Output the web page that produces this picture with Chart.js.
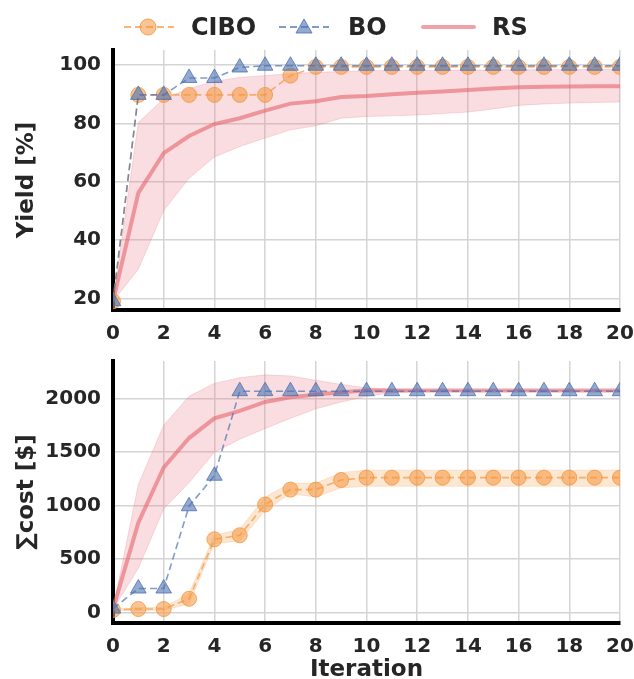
<!DOCTYPE html>
<html>
<head>
<meta charset="utf-8">
<script src="https://cdn.jsdelivr.net/npm/chart.js@4.4.1/dist/chart.umd.min.js"></script>
<style>
  body { margin: 0; background: #fff; width: 634px; height: 679px; overflow: hidden; position: relative; }
  canvas { position: absolute; left: 0; }
  #top { top: 0; }
  #bottom { top: 346px; }
  .leg { position: absolute; top: 12px; font: bold 24px "DejaVu Sans", sans-serif; color: #262626; line-height: 30px; }
  .legsym { position: absolute; top: 12px; }
</style>
</head>
<body>
<canvas id="top" width="634" height="346"></canvas>
<canvas id="bottom" width="634" height="333"></canvas>

<svg class="legsym" style="left:122px" width="54" height="30">
  <line x1="2" y1="15" x2="52" y2="15" stroke="rgba(245,150,60,0.7)" stroke-width="1.8" stroke-dasharray="7,4"/>
  <circle cx="26" cy="15" r="8" fill="rgba(245,150,60,0.55)" stroke="rgba(245,150,60,0.8)"/>
</svg>
<div class="leg" style="left:191px">CIBO</div>
<svg class="legsym" style="left:277px" width="54" height="30">
  <line x1="2" y1="15" x2="52" y2="15" stroke="rgba(76,114,176,0.7)" stroke-width="1.8" stroke-dasharray="7,4"/>
  <polygon points="27,7 35,21 19,21" fill="rgba(76,114,176,0.6)" stroke="rgba(76,114,176,0.8)"/>
</svg>
<div class="leg" style="left:348px">BO</div>
<svg class="legsym" style="left:420px" width="58" height="30">
  <line x1="3" y1="15" x2="54" y2="15" stroke="rgba(230,100,110,0.6)" stroke-width="4" stroke-linecap="round"/>
</svg>
<div class="leg" style="left:492px">RS</div>

<script>
// ---- data ----
const iterations = [0, 1, 2, 3, 4, 5, 6, 7, 8, 9, 10, 11, 12, 13, 14, 15, 16, 17, 18, 19, 20];
const xTicks = [0, 2, 4, 6, 8, 10, 12, 14, 16, 18, 20];

// yield [%]
const ciboYield = [19, 89.8, 89.8, 89.8, 89.8, 89.8, 89.8, 96.4, 99.4, 99.4, 99.4, 99.4, 99.4, 99.4, 99.4, 99.4, 99.4, 99.4, 99.4, 99.4, 99.4];
const boYield = [19, 89.8, 89.8, 95.6, 95.6, 99.2, 99.8, 99.8, 99.8, 99.8, 99.8, 99.8, 99.8, 99.8, 99.8, 99.8, 99.8, 99.8, 99.8, 99.8, 99.8];
const rsYield = [19, 56.2, 69.8, 75.7, 79.8, 81.8, 84.4, 86.8, 87.6, 89.1, 89.4, 90.0, 90.5, 91.0, 91.5, 92.0, 92.4, 92.6, 92.7, 92.8, 92.8];
const rsYieldHi = [19, 80.3, 88.5, 92.0, 94.4, 95.8, 96.4, 97.1, 97.5, 97.8, 98.1, 98.1, 98.2, 98.2, 98.3, 98.3, 98.4, 98.4, 98.5, 98.5, 98.5];
const rsYieldLo = [19, 30.0, 50.1, 61.2, 68.5, 72.1, 75.0, 77.8, 79.2, 81.8, 82.4, 82.6, 82.9, 83.4, 83.9, 85.0, 86.2, 86.7, 87.0, 87.2, 87.4];
const yieldTicks = [20, 40, 60, 80, 100];

// cumulative cost [$]
const ciboCost = [22, 31, 31, 127, 684, 722, 1010, 1150, 1150, 1240, 1262, 1262, 1262, 1262, 1262, 1262, 1262, 1262, 1262, 1262, 1262];
const ciboCostHi = [30, 45, 45, 177, 722, 779, 1080, 1209, 1209, 1311, 1332, 1332, 1332, 1332, 1332, 1332, 1332, 1332, 1332, 1332, 1332];
const ciboCostLo = [15, 20, 20, 79, 645, 667, 953, 1112, 1080, 1166, 1181, 1181, 1181, 1181, 1181, 1181, 1181, 1181, 1181, 1181, 1181];
const boCost = [35, 223, 223, 994, 1280, 2072, 2072, 2072, 2072, 2072, 2072, 2072, 2072, 2072, 2072, 2072, 2072, 2072, 2072, 2072, 2072];
const rsCost = [30, 840, 1357, 1633, 1818, 1888, 1971, 2015, 2040, 2062, 2078, 2078, 2078, 2078, 2078, 2078, 2078, 2078, 2078, 2078, 2078];
const rsCostHi = [30, 1198, 1754, 2024, 2145, 2199, 2225, 2215, 2174, 2135, 2104, 2090, 2082, 2080, 2078, 2078, 2078, 2078, 2078, 2078, 2078];
const rsCostLo = [30, 413, 970, 1214, 1500, 1621, 1723, 1818, 1907, 1971, 2024, 2057, 2070, 2074, 2076, 2077, 2078, 2078, 2078, 2078, 2078];
const costTicks = [0, 500, 1000, 1500, 2000];

// ---- styling ----
const ORANGE = "rgba(245,150,60,0.7)";
const ORANGE_FILL = "rgba(245,150,60,0.55)";
const BLUE = "rgba(76,114,176,0.7)";
const BLUE_FILL = "rgba(76,114,176,0.6)";
const RED = "rgba(230,100,110,0.6)";
const RED_BAND = "rgba(235,120,130,0.25)";
const TEXT = "#262626";
const FONT = "DejaVu Sans";

const pts = (ys) => ys.map((y, i) => ({ x: iterations[i], y }));

function datasets(cibo, bo, rs, rsHi, rsLo, ciboHi, ciboLo) {
  const ds = [
    { data: pts(bo), borderColor: BLUE, borderWidth: 1.6, borderDash: [7, 4], clip: 0,
      pointStyle: "triangle", pointRadius: 9, pointBackgroundColor: BLUE_FILL,
      pointBorderColor: "rgba(76,114,176,0.8)", pointBorderWidth: 1 },
    { data: pts(cibo), borderColor: ORANGE, borderWidth: 1.6, borderDash: [7, 4], clip: 0,
      pointStyle: "circle", pointRadius: 7.5, pointBackgroundColor: ORANGE_FILL,
      pointBorderColor: "rgba(245,150,60,0.8)", pointBorderWidth: 1 },
    { data: pts(rs), borderColor: RED, borderWidth: 4, pointRadius: 0, clip: 0 },
    { data: pts(rsLo), borderColor: "rgba(235,120,130,0.25)", borderWidth: 1, pointRadius: 0 },
    { data: pts(rsHi), borderColor: "rgba(235,120,130,0.25)", borderWidth: 1, pointRadius: 0,
      backgroundColor: RED_BAND, fill: 3 },
  ];
  if (ciboHi) {
    ds.push({ data: pts(ciboLo), borderColor: "rgba(245,150,60,0.2)", borderWidth: 1, pointRadius: 0 });
    ds.push({ data: pts(ciboHi), borderColor: "rgba(245,150,60,0.2)", borderWidth: 1, pointRadius: 0,
      backgroundColor: "rgba(245,160,80,0.25)", fill: 5 });
  }
  return ds;
}

function options(yMin, yMax, yTicks, yTitle, xTitle, xHeight, padTop) {
  return {
    responsive: false, animation: false, events: [],
    layout: { padding: { left: 0, right: 14, top: padTop, bottom: 0 } },
    plugins: { legend: { display: false }, tooltip: { enabled: false } },
    scales: {
      x: {
        type: "linear", min: 0, max: 20,
        afterBuildTicks: (s) => { s.ticks = xTicks.map((v) => ({ value: v })); },
        afterFit: (s) => { s.height = xHeight; s.paddingLeft = 0; s.paddingRight = 0; },
        grid: { color: "#d4d4d4", lineWidth: 1.5, drawTicks: false },
        border: { display: true, color: "#000", width: 4 },
        ticks: { padding: 12, color: TEXT, font: { family: FONT, size: 20, weight: "bold" },
          maxRotation: 0, callback: (v) => String(v) },
        title: { display: !!xTitle, text: xTitle, color: TEXT, padding: { top: 0, bottom: -3 },
          font: { family: FONT, size: 23, weight: "bold", lineHeight: 1.0 } },
      },
      y: {
        min: yMin, max: yMax,
        afterBuildTicks: (s) => { s.ticks = yTicks.map((v) => ({ value: v })); },
        afterFit: (s) => { s.width = 113; s.paddingTop = 0; s.paddingBottom = 0; },
        grid: { color: "#d4d4d4", lineWidth: 1.5, drawTicks: false },
        border: { display: true, color: "#000", width: 4 },
        ticks: { padding: 12, color: TEXT, font: { family: FONT, size: 20, weight: "bold" },
          callback: (v) => String(v) },
        title: { display: true, text: yTitle, color: TEXT, padding: { top: 13, bottom: 0 },
          font: { family: FONT, size: 23, weight: "bold" } },
      },
    },
  };
}

new Chart(document.getElementById("top"), {
  type: "line",
  data: { datasets: datasets(ciboYield, boYield, rsYield, rsYieldHi, rsYieldLo) },
  options: options(16, 105.2, yieldTicks, "Yield [%]", "", 36, 50),
});

new Chart(document.getElementById("bottom"), {
  type: "line",
  data: { datasets: datasets(ciboCost, boCost, rsCost, rsCostHi, rsCostLo, ciboCostHi, ciboCostLo) },
  options: options(-100, 2355, costTicks, "\u2211cost [$]", "Iteration", 56, 15),
});
</script>
</body>
</html>
